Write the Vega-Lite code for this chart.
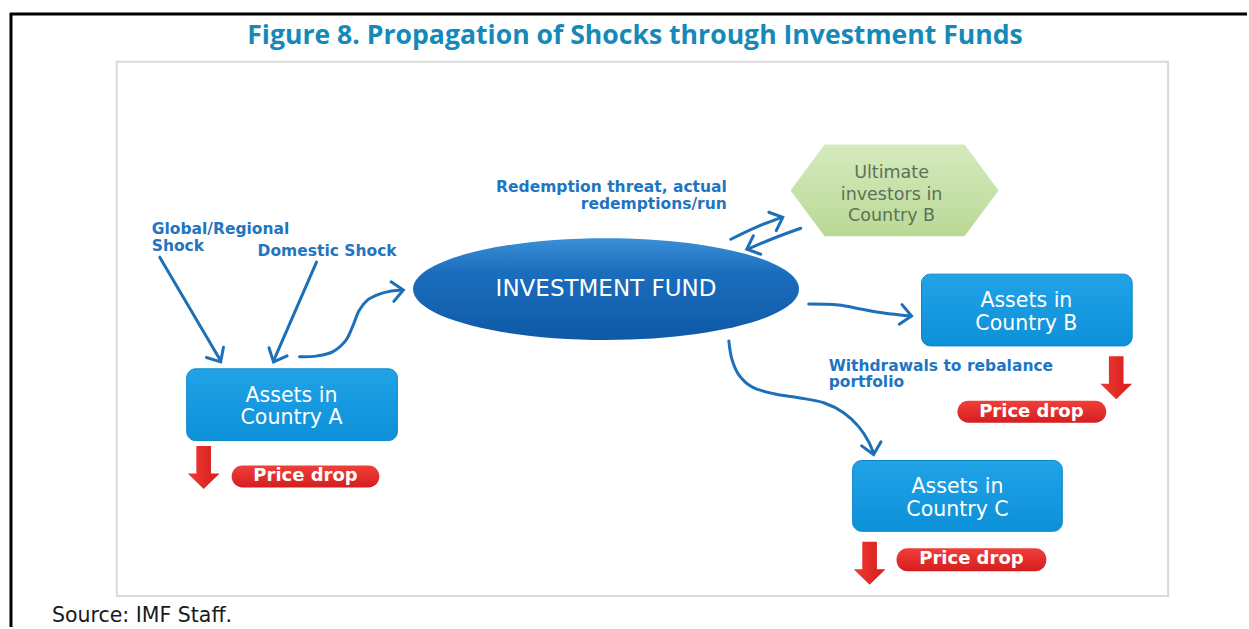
{
  "$schema": "https://vega.github.io/schema/vega-lite/v6.json",
  "width": 1249,
  "height": 629,
  "padding": 0,
  "autosize": {"type": "fit", "contains": "padding"},
  "background": "white",
  "config": {"view": {"stroke": null}, "axis": {"disable": true}},
  "datasets": {
    "frame": [{"x": 10, "y": 14, "x2": 1249, "y2": 14}, {"x": 11, "y": 13, "x2": 11, "y2": 629}],
    "panel": [{"x": 117, "y": 62, "x2": 1170, "y2": 598}],
    "paths": [
      {"id": 1, "ord": 1, "x": 160, "y": 258}, {"id": 1, "ord": 2, "x": 221, "y": 362},
      {"id": 2, "ord": 1, "x": 317, "y": 263}, {"id": 2, "ord": 2, "x": 274, "y": 362},
      {"id": 3, "ord": 1, "x": 300, "y": 358}, {"id": 3, "ord": 2, "x": 318, "y": 357}, {"id": 3, "ord": 3, "x": 333, "y": 353}, {"id": 3, "ord": 4, "x": 346, "y": 342}, {"id": 3, "ord": 5, "x": 353, "y": 328}, {"id": 3, "ord": 6, "x": 360, "y": 311}, {"id": 3, "ord": 7, "x": 368, "y": 301}, {"id": 3, "ord": 8, "x": 380, "y": 295}, {"id": 3, "ord": 9, "x": 392, "y": 292}, {"id": 3, "ord": 10, "x": 403, "y": 291},
      {"id": 4, "ord": 1, "x": 732, "y": 240}, {"id": 4, "ord": 2, "x": 757, "y": 228}, {"id": 4, "ord": 3, "x": 783, "y": 218},
      {"id": 5, "ord": 1, "x": 802, "y": 229}, {"id": 5, "ord": 2, "x": 775, "y": 239}, {"id": 5, "ord": 3, "x": 749, "y": 250},
      {"id": 6, "ord": 1, "x": 810, "y": 305}, {"id": 6, "ord": 2, "x": 840, "y": 306}, {"id": 6, "ord": 3, "x": 862, "y": 310}, {"id": 6, "ord": 4, "x": 885, "y": 314}, {"id": 6, "ord": 5, "x": 912, "y": 317},
      {"id": 7, "ord": 1, "x": 730, "y": 342}, {"id": 7, "ord": 2, "x": 733, "y": 360}, {"id": 7, "ord": 3, "x": 740, "y": 376}, {"id": 7, "ord": 4, "x": 753, "y": 388}, {"id": 7, "ord": 5, "x": 775, "y": 395}, {"id": 7, "ord": 6, "x": 800, "y": 399}, {"id": 7, "ord": 7, "x": 825, "y": 404}, {"id": 7, "ord": 8, "x": 845, "y": 414}, {"id": 7, "ord": 9, "x": 860, "y": 428}, {"id": 7, "ord": 10, "x": 870, "y": 443}, {"id": 7, "ord": 11, "x": 875, "y": 455}
    ],
    "heads": [
      {"x": 221, "y": 363, "ang": 59}, {"x": 274, "y": 363, "ang": 114}, {"x": 404, "y": 291, "ang": -8},
      {"x": 784, "y": 218, "ang": -22}, {"x": 748, "y": 250, "ang": 158}, {"x": 913, "y": 317, "ang": 8},
      {"x": 875, "y": 456, "ang": 78}
    ],
    "fund": [{"x": 607, "y": 290, "t": "INVESTMENT FUND"}],
    "hex": [{"x": 896, "y": 191}],
    "hexText": [{"x": 893, "y": 174, "t": "Ultimate\ninvestors in\nCountry B"}],
    "boxes": [
      {"x": 187, "y": 370, "x2": 398, "y2": 442},
      {"x": 923, "y": 275, "x2": 1134, "y2": 347},
      {"x": 854, "y": 462, "x2": 1064, "y2": 533}
    ],
    "boxText": [
      {"x": 292, "y": 397, "t": "Assets in\nCountry A"},
      {"x": 1028, "y": 302, "t": "Assets in\nCountry B"},
      {"x": 959, "y": 489, "t": "Assets in\nCountry C"}
    ],
    "drops": [{"x": 204, "y": 469}, {"x": 1118, "y": 379}, {"x": 871, "y": 565}],
    "pills": [
      {"x": 232, "y": 467, "x2": 380, "y2": 489, "cx": 306, "cy": 478, "t": "Price drop"},
      {"x": 959, "y": 402, "x2": 1108, "y2": 424, "cx": 1033, "cy": 413, "t": "Price drop"},
      {"x": 898, "y": 550, "x2": 1048, "y2": 573, "cx": 973, "cy": 561, "t": "Price drop"}
    ],
    "labelsLeft": [
      {"x": 152, "y": 230, "t": "Global/Regional\nShock"},
      {"x": 258, "y": 252, "t": "Domestic Shock"},
      {"x": 830, "y": 367, "t": "Withdrawals to rebalance\nportfolio"}
    ],
    "labelsRight": [{"x": 728, "y": 188, "t": "Redemption threat, actual\nredemptions/run"}],
    "title": [{"x": 636, "y": 44, "t": "Figure 8. Propagation of Shocks through Investment Funds"}],
    "source": [{"x": 52, "y": 624, "t": "Source: IMF Staff."}]
  },
  "layer": [
    {
      "data": {"name": "frame"},
      "mark": {"type": "rule", "color": "black", "strokeWidth": 3},
      "encoding": {
        "x": {"field": "x", "type": "quantitative", "scale": {"domain": [0, 1249], "nice": false, "zero": false}},
        "y": {"field": "y", "type": "quantitative", "scale": {"domain": [0, 629], "nice": false, "zero": false, "reverse": true}},
        "x2": {"field": "x2"}, "y2": {"field": "y2"}
      }
    },
    {
      "data": {"name": "panel"},
      "mark": {"type": "rect", "fill": "white", "stroke": "#d9d9d9", "strokeWidth": 2},
      "encoding": {
        "x": {"field": "x", "type": "quantitative"}, "x2": {"field": "x2"},
        "y": {"field": "y", "type": "quantitative"}, "y2": {"field": "y2"}
      }
    },
    {
      "data": {"name": "paths"},
      "mark": {"type": "line", "color": "#1d6fb8", "strokeWidth": 3, "interpolate": "catmull-rom", "strokeCap": "round"},
      "encoding": {
        "x": {"field": "x", "type": "quantitative"},
        "y": {"field": "y", "type": "quantitative"},
        "detail": {"field": "id", "type": "nominal"},
        "order": {"field": "ord", "type": "quantitative"}
      }
    },
    {
      "data": {"name": "heads"},
      "mark": {"type": "point", "shape": "M-1,-0.9L0,0L-1,0.9", "size": 484, "filled": false, "stroke": "#1d6fb8", "strokeWidth": 3, "opacity": 1, "strokeCap": "round", "strokeJoin": "miter"},
      "encoding": {
        "x": {"field": "x", "type": "quantitative"},
        "y": {"field": "y", "type": "quantitative"},
        "angle": {"field": "ang", "type": "quantitative", "scale": null}
      }
    },
    {
      "data": {"name": "fund"},
      "mark": {"type": "point", "shape": "M-1,0C-1,-0.1458 -0.5523,-0.264 0,-0.264C0.5523,-0.264 1,-0.1458 1,0C1,0.1458 0.5523,0.264 0,0.264C-0.5523,0.264 -1,0.1458 -1,0Z", "size": 148996, "filled": true, "opacity": 1,
        "fill": {"gradient": "linear", "x1": 0, "y1": 0, "x2": 0, "y2": 1, "stops": [{"offset": 0, "color": "#3a8fd6"}, {"offset": 0.35, "color": "#1a6dbd"}, {"offset": 1, "color": "#0f59a6"}]}},
      "encoding": {"x": {"field": "x", "type": "quantitative"}, "y": {"field": "y", "type": "quantitative"}}
    },
    {
      "data": {"name": "fund"},
      "mark": {"type": "text", "font": "DejaVu Sans", "fontSize": 23, "color": "white", "baseline": "middle", "align": "center"},
      "encoding": {"x": {"field": "x", "type": "quantitative"}, "y": {"field": "y", "type": "quantitative"}, "text": {"field": "t"}}
    },
    {
      "data": {"name": "hex"},
      "mark": {"type": "point", "shape": "M-1,0L-0.673,-0.442L0.673,-0.442L1,0L0.673,0.442L-0.673,0.442Z", "size": 43264, "filled": true, "opacity": 1,
        "fill": {"gradient": "linear", "x1": 0, "y1": 0, "x2": 0, "y2": 1, "stops": [{"offset": 0, "color": "#d5eabd"}, {"offset": 1, "color": "#b9d996"}]}},
      "encoding": {"x": {"field": "x", "type": "quantitative"}, "y": {"field": "y", "type": "quantitative"}}
    },
    {
      "data": {"name": "hexText"},
      "mark": {"type": "text", "font": "DejaVu Sans", "fontSize": 17.5, "lineHeight": 21.5, "lineBreak": "\n", "color": "#5e7058", "baseline": "middle", "align": "center"},
      "encoding": {"x": {"field": "x", "type": "quantitative"}, "y": {"field": "y", "type": "quantitative"}, "text": {"field": "t"}}
    },
    {
      "data": {"name": "boxes"},
      "mark": {"type": "rect", "cornerRadius": 9,
        "fill": {"gradient": "linear", "x1": 0, "y1": 0, "x2": 0, "y2": 1, "stops": [{"offset": 0, "color": "#22a3e8"}, {"offset": 1, "color": "#0c90d8"}]},
        "stroke": "#0b86cc", "strokeWidth": 1},
      "encoding": {
        "x": {"field": "x", "type": "quantitative"}, "x2": {"field": "x2"},
        "y": {"field": "y", "type": "quantitative"}, "y2": {"field": "y2"}
      }
    },
    {
      "data": {"name": "boxText"},
      "mark": {"type": "text", "font": "DejaVu Sans", "fontSize": 20.5, "lineHeight": 22.5, "lineBreak": "\n", "color": "white", "baseline": "middle", "align": "center"},
      "encoding": {"x": {"field": "x", "type": "quantitative"}, "y": {"field": "y", "type": "quantitative"}, "text": {"field": "t"}}
    },
    {
      "data": {"name": "drops"},
      "mark": {"type": "point", "shape": "M-0.34,-1L0.34,-1L0.34,0.28L0.74,0.28L0,1L-0.74,0.28L-0.34,0.28Z", "size": 1849, "filled": true, "opacity": 1,
        "fill": {"gradient": "linear", "x1": 0, "y1": 0, "x2": 1, "y2": 0, "stops": [{"offset": 0, "color": "#f03a32"}, {"offset": 1, "color": "#d41d1d"}]}},
      "encoding": {"x": {"field": "x", "type": "quantitative"}, "y": {"field": "y", "type": "quantitative"}}
    },
    {
      "data": {"name": "pills"},
      "mark": {"type": "rect", "cornerRadius": 11,
        "fill": {"gradient": "linear", "x1": 0, "y1": 0, "x2": 0, "y2": 1, "stops": [{"offset": 0, "color": "#f0403a"}, {"offset": 1, "color": "#d41e1e"}]}},
      "encoding": {
        "x": {"field": "x", "type": "quantitative"}, "x2": {"field": "x2"},
        "y": {"field": "y", "type": "quantitative"}, "y2": {"field": "y2"}
      }
    },
    {
      "data": {"name": "pills"},
      "mark": {"type": "text", "font": "DejaVu Sans", "fontSize": 18, "fontWeight": "bold", "color": "white", "baseline": "middle", "align": "center"},
      "encoding": {"x": {"field": "cx", "type": "quantitative"}, "y": {"field": "cy", "type": "quantitative"}, "text": {"field": "t"}}
    },
    {
      "data": {"name": "labelsLeft"},
      "mark": {"type": "text", "font": "DejaVu Sans", "fontSize": 15.5, "fontWeight": "bold", "lineHeight": 16.5, "lineBreak": "\n", "color": "#1f75c2", "baseline": "middle", "align": "left"},
      "encoding": {"x": {"field": "x", "type": "quantitative"}, "y": {"field": "y", "type": "quantitative"}, "text": {"field": "t"}}
    },
    {
      "data": {"name": "labelsRight"},
      "mark": {"type": "text", "font": "DejaVu Sans", "fontSize": 15.5, "fontWeight": "bold", "lineHeight": 17, "lineBreak": "\n", "color": "#1f75c2", "baseline": "middle", "align": "right"},
      "encoding": {"x": {"field": "x", "type": "quantitative"}, "y": {"field": "y", "type": "quantitative"}, "text": {"field": "t"}}
    },
    {
      "data": {"name": "title"},
      "mark": {"type": "text", "font": "Open Sans", "fontSize": 26.6, "fontWeight": "bold", "color": "#1589b8", "baseline": "alphabetic", "align": "center"},
      "encoding": {"x": {"field": "x", "type": "quantitative"}, "y": {"field": "y", "type": "quantitative"}, "text": {"field": "t"}}
    },
    {
      "data": {"name": "source"},
      "mark": {"type": "text", "font": "DejaVu Sans", "fontSize": 20.5, "color": "#1a1a1a", "baseline": "alphabetic", "align": "left"},
      "encoding": {"x": {"field": "x", "type": "quantitative"}, "y": {"field": "y", "type": "quantitative"}, "text": {"field": "t"}}
    }
  ]
}
